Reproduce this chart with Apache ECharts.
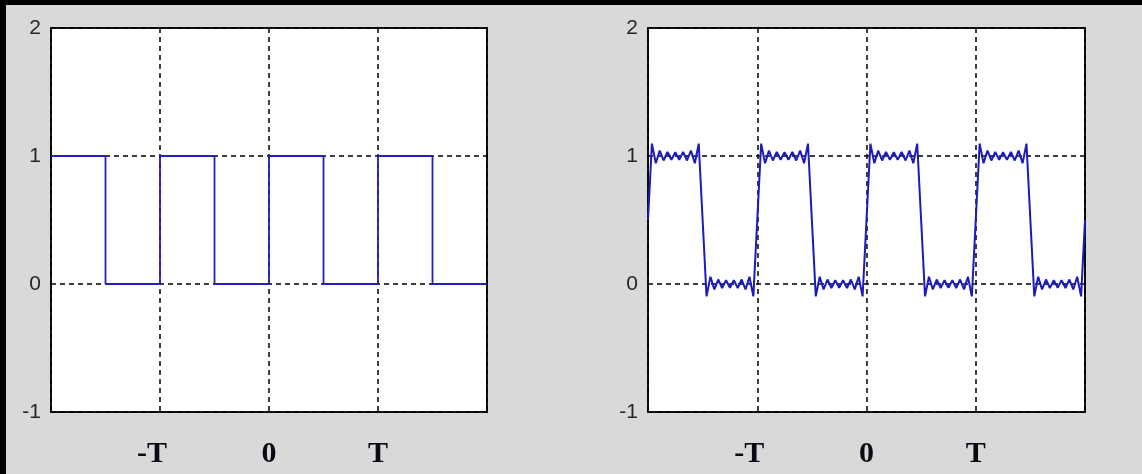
<!DOCTYPE html>
<html>
<head>
<meta charset="utf-8">
<title>Square wave and Fourier approximation</title>
<script src="https://cdn.jsdelivr.net/npm/echarts@6/dist/echarts.min.js"></script>
<style>
  html, body { margin: 0; padding: 0; background: #000; }
  #chart { position: absolute; left: 6px; top: 5px; width: 1136px; height: 469px; background: #d9d9d9; }
</style>
</head>
<body>
<div id="chart"></div>
<script>
// x in units of the period T
const xTicks = [-2, -1, 0, 1, 2];
const xTickLabels = ['', '-T', '0', 'T', ''];
const yTicks = [-1, 0, 1, 2];

// ideal square wave: level held from each edge to the next
const squareEdges = [-2, -1.5, -1, -0.5, 0, 0.5, 1, 1.5, 2];
const squareLevels = [1, 0, 1, 0, 1, 0, 1, 0, 0];

// truncated Fourier sum, sampled every T/28 from -2T
const sampleStart = -2;
const sampleStep = 1 / 28;
const fourierY = [
  0.5, 1.097, 0.943, 1.042, 0.965, 1.031, 0.971, 1.029, 0.971, 1.031, 0.965, 1.042, 0.943, 1.097,
  0.5, -0.097, 0.057, -0.042, 0.035, -0.031, 0.029, -0.029, 0.029, -0.031, 0.035, -0.042, 0.057, -0.097,
  0.5, 1.097, 0.943, 1.042, 0.965, 1.031, 0.971, 1.029, 0.971, 1.031, 0.965, 1.042, 0.943, 1.097,
  0.5, -0.097, 0.057, -0.042, 0.035, -0.031, 0.029, -0.029, 0.029, -0.031, 0.035, -0.042, 0.057, -0.097,
  0.5, 1.097, 0.943, 1.042, 0.965, 1.031, 0.971, 1.029, 0.971, 1.031, 0.965, 1.042, 0.943, 1.097,
  0.5, -0.097, 0.057, -0.042, 0.035, -0.031, 0.029, -0.029, 0.029, -0.031, 0.035, -0.042, 0.057, -0.097,
  0.5, 1.097, 0.943, 1.042, 0.965, 1.031, 0.971, 1.029, 0.971, 1.031, 0.965, 1.042, 0.943, 1.097,
  0.5, -0.097, 0.057, -0.042, 0.035, -0.031, 0.029, -0.029, 0.029, -0.031, 0.035, -0.042, 0.057, -0.097,
  0.5
];

const chart = echarts.init(document.getElementById('chart'));

const gridLine = { show: true, lineStyle: { type: [5, 4], color: '#000', width: 1.5 } };

function xAxisFor(i) {
  return {
    type: 'value', gridIndex: i, min: xTicks[0], max: xTicks[xTicks.length - 1], interval: 1,
    axisLine: { show: false }, axisTick: { show: false },
    splitLine: gridLine,
    axisLabel: {
      margin: 27,
      fontFamily: 'Liberation Serif', fontWeight: 'bold', fontSize: 30, color: '#0a0a14',
      formatter: function (v) {
        const label = xTickLabels[xTicks.indexOf(v)] || '';
        // keep the "T" of "-T" over its gridline
        return label === '-T' ? '-T{sp| }' : label;
      },
      rich: { sp: { width: 16 } }
    }
  };
}

function yAxisFor(i) {
  return {
    type: 'value', gridIndex: i, min: yTicks[0], max: yTicks[yTicks.length - 1], interval: 1,
    axisLine: { show: false }, axisTick: { show: false },
    splitLine: gridLine,
    axisLabel: { margin: 10, fontFamily: 'Liberation Sans', fontSize: 21, color: '#262626' }
  };
}

const box = { show: true, backgroundColor: '#fff', borderColor: '#111', borderWidth: 2 };

chart.setOption({
  animation: false,
  grid: [
    Object.assign({ left: 45, top: 23, width: 436, height: 384 }, box),
    Object.assign({ left: 642, top: 23, width: 437, height: 384 }, box)
  ],
  xAxis: [xAxisFor(0), xAxisFor(1)],
  yAxis: [yAxisFor(0), yAxisFor(1)],
  series: [
    {
      type: 'line', xAxisIndex: 0, yAxisIndex: 0, step: 'end', symbol: 'none', clip: false,
      lineStyle: { color: '#2020c4', width: 1.8 },
      data: squareEdges.map((x, i) => [x, squareLevels[i]])
    },
    {
      type: 'line', xAxisIndex: 1, yAxisIndex: 1, symbol: 'none', clip: false,
      lineStyle: { color: '#1c1cbc', width: 2 },
      data: fourierY.map((y, i) => [sampleStart + i * sampleStep, y])
    }
  ]
});
</script>
</body>
</html>
